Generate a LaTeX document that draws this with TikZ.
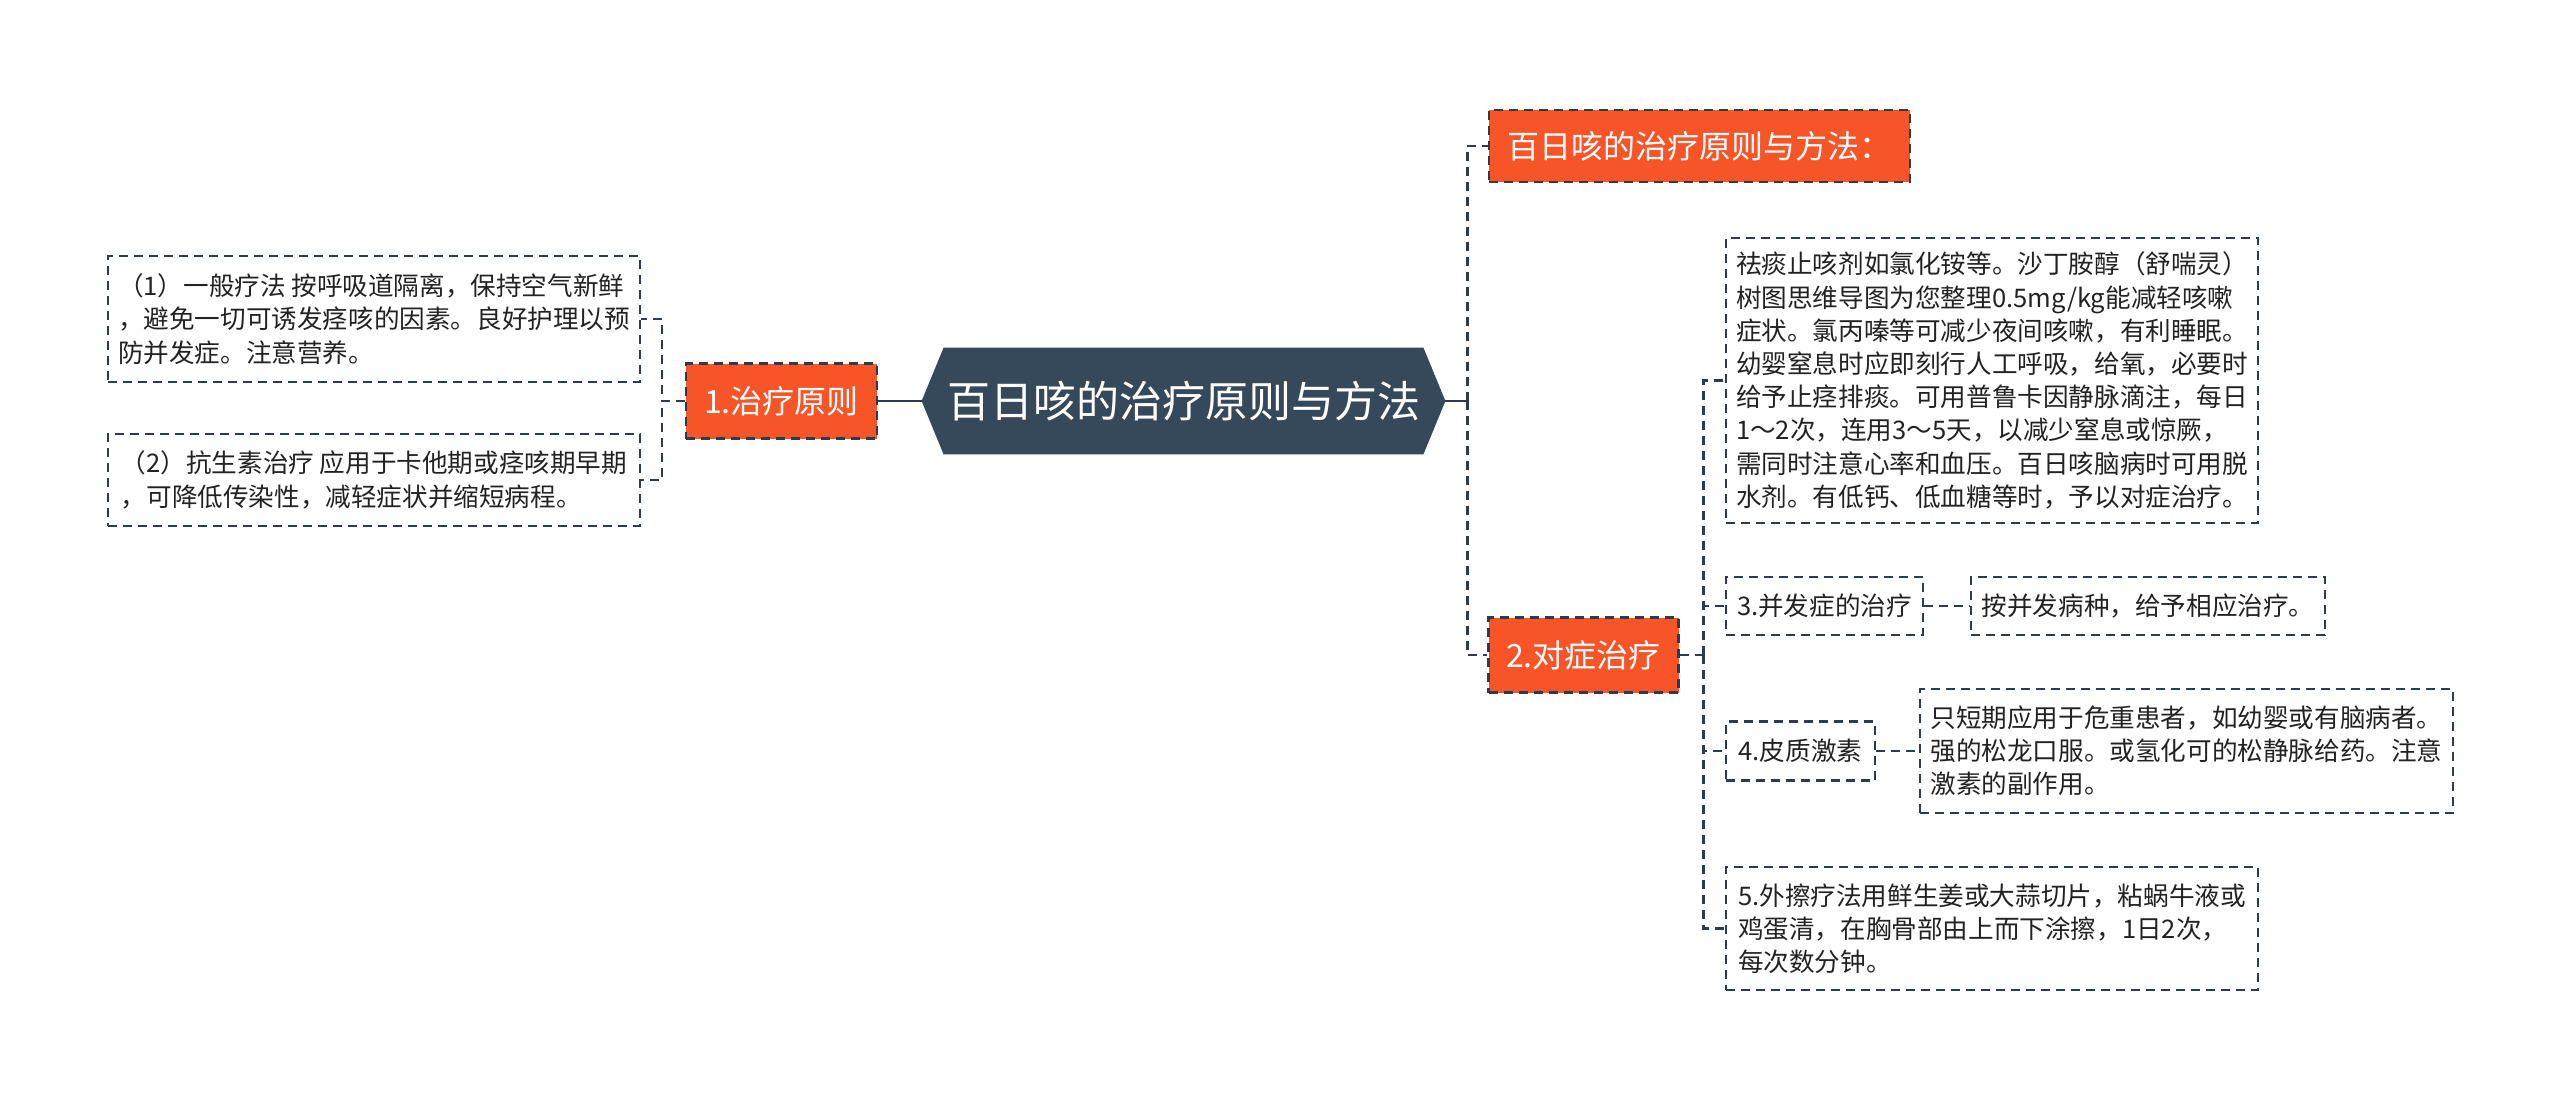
\documentclass[tikz,border=0pt]{standalone}
\usepackage{fontspec}
\setmainfont{Noto Sans CJK SC}
\usepackage{tikz}
\usetikzlibrary{positioning}
\usetikzlibrary{backgrounds}
\usetikzlibrary{calc}

\definecolor{rootcol}{RGB}{54,73,90}
\definecolor{hotcol}{RGB}{247,84,40}
\definecolor{linecol}{RGB}{44,60,76}
\definecolor{txtcol}{RGB}{34,34,34}

\begin{document}
\begin{tikzpicture}[x=0.5pt, y=-0.5pt,
  link/.style={draw=linecol, line width=1.3pt, dash pattern=on 4.5pt off 3pt},
  trunk/.style={draw=linecol, line width=1.4pt},
  leaf/.style={draw=linecol, line width=1.1pt, dash pattern=on 4.5pt off 3pt, align=left, text=txtcol, inner sep=0pt, font=\fontsize{12.8}{16.6}\selectfont},
  hot/.style={fill=hotcol, draw=linecol, line width=1.1pt, dash pattern=on 4.5pt off 3pt, text=white, inner sep=0pt, font=\fontsize{16}{19}\selectfont},
  rootbox/.style={inner sep=0pt, text=white, font=\fontsize{21.5}{24}\selectfont}]

 \useasboundingbox (0,0) rectangle (2560,1098);

 % root
 \node[rootbox, minimum width=239.5pt, minimum height=53pt] (root) at (1183.5,401) {百日咳的治疗原则与方法};
 \coordinate (rootL) at ([xshift=-11pt]root.west);
 \coordinate (rootR) at ([xshift=11pt]root.east);
 \begin{scope}[on background layer]
  \fill[rootcol] (rootL) -- (root.north west) -- (root.north east) -- (rootR) -- (root.south east) -- (root.south west) -- cycle;
 \end{scope}

 %level 1
 \node[hot, minimum width=95.5pt, minimum height=37.5pt] (n1) at (781.5,401) {1.治疗原则};
 \node[hot, minimum width=210.5pt, minimum height=36pt] (title) at (1699.5,146) {百日咳的治疗原则与方法：};
 \node[hot, minimum width=95pt, minimum height=37.5pt] (n2) at (1583.5,655) {2.对症治疗};

 %level 2 left
 \node[leaf, minimum width=266pt, minimum height=63pt] (leaf1) at (374,319)
  {（1）一般疗法 按呼吸道隔离，保持空气新鲜\\，避免一切可诱发痉咳的因素。良好护理以预\\防并发症。注意营养。};
 \node[leaf, minimum width=266pt, minimum height=46pt] (leaf2) at (374,480)
  {（2）抗生素治疗 应用于卡他期或痉咳期早期\\，可降低传染性，减轻症状并缩短病程。};

 %level 2 right
 \node[leaf, minimum width=266pt, minimum height=142.5pt] (big) at (1992,380.5)
  {祛痰止咳剂如氯化铵等。沙丁胺醇（舒喘灵）\\树图思维导图为您整理0.5mg/kg能减轻咳嗽\\症状。氯丙嗪等可减少夜间咳嗽，有利睡眠。\\幼婴窒息时应即刻行人工呼吸，给氧，必要时\\给予止痉排痰。可用普鲁卡因静脉滴注，每日\\1～2次，连用3～5天，以减少窒息或惊厥，\\需同时注意心率和血压。百日咳脑病时可用脱\\水剂。有低钙、低血糖等时，予以对症治疗。};
 \node[leaf, minimum width=98.5pt, minimum height=29pt] (s3) at (1824.5,606) {3.并发症的治疗};
 \node[leaf, minimum width=177pt, minimum height=29pt] (a3) at (2148,606) {按并发病种，给予相应治疗。};
 \node[leaf, minimum width=74.5pt, minimum height=29.5pt] (s4) at (1800.5,751) {4.皮质激素};
 \node[leaf, minimum width=266.5pt, minimum height=62pt] (a4) at (2186.5,751)
  {只短期应用于危重患者，如幼婴或有脑病者。\\强的松龙口服。或氢化可的松静脉给药。注意\\激素的副作用。};
 \node[leaf, minimum width=266pt, minimum height=61.5pt] (s5) at (1992,928.5)
  {5.外擦疗法用鲜生姜或大蒜切片，粘蜗牛液或\\鸡蛋清，在胸骨部由上而下涂擦，1日2次，\\每次数分钟。};

 % lines
 \draw[trunk] (rootL) -- (n1.east);
 \draw[trunk] (rootR) -- ++(22,0) coordinate (rj);
 \draw[link] (rj) |- (title.west);
 \draw[link] (rj) |- (n2.west);

 \foreach \dest in {leaf1, leaf2}
   \draw[link] (n1.west) -- ++(-23,0) |- (\dest.east);

 \draw[link] (n2.east) -- ++(24,0) coordinate (cj);
 \foreach \dest in {big, s3, s4, s5}
   \draw[link] (cj) |- (\dest.west);

 \draw[link] (s3.east) -- (a3.west);
 \draw[link] (s4.east) -- (a4.west);

\end{tikzpicture}
\end{document}
